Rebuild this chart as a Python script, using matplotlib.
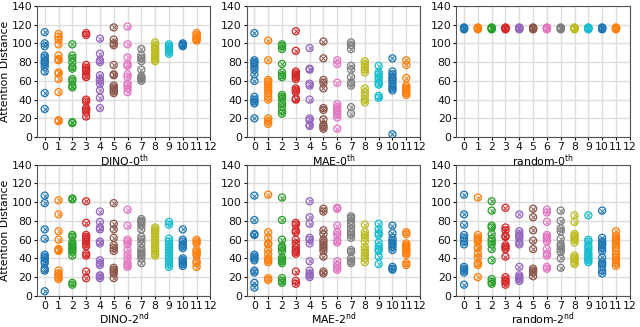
import matplotlib
matplotlib.use("Agg")
import matplotlib.pyplot as plt

layers = list(range(12))
xticks = list(range(13))

dino0 = [
    [112, 100, 97, 87, 85, 82, 80, 78, 75, 70, 47, 30],
    [110, 107, 104, 99, 87, 83, 82, 69, 68, 62, 48, 18, 17],
    [99, 87, 84, 80, 75, 73, 62, 60, 55, 53, 16, 15],
    [111, 109, 77, 74, 72, 70, 66, 64, 40, 38, 31, 29, 27, 22],
    [105, 89, 82, 80, 66, 62, 60, 57, 50, 42, 31],
    [117, 104, 100, 98, 77, 67, 66, 55, 53, 51, 49, 47],
    [118, 99, 85, 78, 76, 67, 64, 57, 55, 52, 48],
    [94, 87, 84, 81, 72, 65, 63, 62, 60],
    [101, 98, 95, 93, 91, 89, 87, 85, 83, 81],
    [99, 97, 95, 93, 91, 89],
    [100, 99, 98, 97],
    [111, 109, 107, 105, 104, 103],
]
mae0 = [
    [111, 82, 80, 78, 75, 72, 67, 60, 43, 40, 38, 36, 20],
    [103, 82, 61, 59, 56, 53, 50, 47, 43, 40, 20, 17, 14],
    [99, 97, 94, 78, 69, 66, 64, 45, 43, 41, 36, 33, 28, 25],
    [113, 92, 70, 68, 66, 64, 62, 52, 50, 48, 41, 40],
    [95, 73, 72, 57, 55, 40, 20, 18, 13, 12],
    [102, 84, 61, 58, 52, 31, 29, 19, 13, 11, 9],
    [82, 78, 58, 35, 32, 29, 27, 24, 21, 9],
    [101, 98, 94, 76, 72, 64, 58, 55, 32, 25],
    [81, 78, 75, 72, 69, 52, 48, 44, 40, 37],
    [76, 69, 67, 64, 61, 58, 56, 44, 42],
    [84, 70, 67, 64, 62, 60, 57, 54, 52, 50, 3],
    [82, 77, 63, 55, 53, 51, 49, 47, 45],
]
random0 = [[117, 116.5, 116, 115.5, 115] for _ in range(12)]
dino2 = [
    [107, 99, 71, 61, 44, 42, 40, 37, 35, 29, 27, 5],
    [102, 87, 69, 60, 50, 49, 48, 27, 24, 22, 20, 18],
    [104, 103, 65, 63, 57, 55, 53, 51, 49, 47, 43, 14, 12],
    [101, 78, 65, 63, 61, 58, 55, 53, 45, 43, 26, 19],
    [90, 79, 73, 71, 58, 56, 38, 35, 33, 22, 21, 19],
    [99, 77, 71, 62, 54, 51, 48, 30, 28, 26, 24, 19],
    [92, 75, 60, 58, 55, 49, 44, 40, 35, 33, 31],
    [82, 80, 78, 75, 71, 63, 60, 56, 51, 48, 45, 43, 40, 35],
    [73, 71, 69, 66, 63, 60, 57, 54, 51, 48, 45, 43],
    [79, 76, 61, 58, 55, 52, 49, 46, 43, 40, 37, 34, 31],
    [71, 60, 58, 55, 53, 51, 40, 38, 36, 34, 32],
    [60, 58, 56, 49, 47, 45, 43, 37, 35, 31],
]
mae2 = [
    [107, 81, 66, 65, 44, 42, 40, 38, 27, 25, 14, 9],
    [108, 68, 62, 56, 55, 49, 45, 40, 38, 36, 19, 17],
    [105, 81, 60, 53, 51, 48, 41, 39, 37, 35, 19, 16, 14],
    [78, 76, 70, 68, 60, 56, 52, 49, 47, 45, 26, 16, 13],
    [101, 84, 77, 62, 60, 56, 37, 27, 24, 22, 20],
    [93, 90, 70, 66, 60, 57, 54, 51, 48, 42, 26, 24],
    [94, 93, 75, 68, 65, 59, 57, 37, 33, 30, 28],
    [85, 83, 80, 76, 72, 68, 65, 62, 49, 47, 40, 37, 35],
    [76, 68, 65, 62, 58, 52, 49, 46, 43, 40, 36],
    [77, 71, 67, 65, 57, 53, 50, 48, 42, 34],
    [75, 67, 62, 59, 57, 55, 52, 49, 31, 29, 28],
    [68, 66, 56, 54, 52, 50, 48, 46, 44, 35, 33],
]
random2 = [
    [108, 87, 76, 65, 62, 58, 55, 31, 29, 27, 25, 12],
    [105, 65, 62, 60, 58, 52, 51, 45, 41, 35, 33, 20],
    [101, 91, 75, 73, 66, 61, 58, 55, 50, 38, 18, 15, 13],
    [94, 73, 70, 64, 63, 54, 52, 50, 42, 20, 17, 15, 12],
    [87, 69, 66, 64, 62, 57, 55, 31, 22, 20, 18, 16],
    [93, 84, 70, 59, 50, 29, 27, 25, 21],
    [92, 89, 79, 65, 63, 61, 58, 50, 45, 43, 31, 29],
    [91, 80, 72, 69, 61, 55, 53, 50, 47, 40, 30],
    [86, 79, 66, 64, 62, 60, 57, 43, 41, 39, 36, 34],
    [86, 60, 58, 54, 52, 49, 46, 44, 42, 40, 38, 36],
    [91, 62, 58, 56, 54, 51, 48, 41, 36, 34, 32, 27, 24],
    [69, 64, 62, 60, 58, 55, 52, 48, 44, 41, 38, 35, 32],
]

panels = [
    (dino0, "DINO-0$^{\\mathrm{th}}$"),
    (mae0, "MAE-0$^{\\mathrm{th}}$"),
    (random0, "random-0$^{\\mathrm{th}}$"),
    (dino2, "DINO-2$^{\\mathrm{nd}}$"),
    (mae2, "MAE-2$^{\\mathrm{nd}}$"),
    (random2, "random-2$^{\\mathrm{nd}}$"),
]

plt.rcParams['font.family'] = ['DejaVu Sans']
plt.rcParams['font.size'] = 7.8
plt.rcParams['mathtext.default'] = 'regular'

fig, axes = plt.subplots(2, 3, figsize=(6.4, 3.27), dpi=100)
fig.subplots_adjust(left=0.058, right=0.984, top=0.982, bottom=0.095,
                    wspace=0.21, hspace=0.21)
colors = plt.rcParams['axes.prop_cycle'].by_key()['color']

for i, (ax, (data, label)) in enumerate(zip(axes.flat, panels)):
    for layer, vals in zip(layers, data):
        c = colors[layer % len(colors)]
        ax.scatter([layer] * len(vals), vals, s=26, facecolors='none',
                   edgecolors=c, linewidths=0.9, zorder=3)
        ax.scatter([layer] * len(vals), vals, s=10, marker='x',
                   color=c, linewidths=0.7, zorder=3)
    ax.set_xticks(xticks)
    ax.set_ylim(0, 140)
    ax.set_yticks(range(0, 141, 20))
    ax.set_xlim(-0.55, 12)
    ax.grid(True, color='#dddddd', linewidth=1.0, zorder=0)
    ax.set_axisbelow(True)
    ax.tick_params(length=2.5, pad=1, labelsize=7.8, colors='#111111')
    for sp in ax.spines.values():
        sp.set_color('#555555')
        sp.set_linewidth(0.8)
    ax.set_xlabel(label, fontsize=7.8, labelpad=0)
    if i % 3 == 0:
        ax.set_ylabel("Attention Distance", fontsize=7.8, labelpad=1)

fig.savefig("out.png", dpi=100)
